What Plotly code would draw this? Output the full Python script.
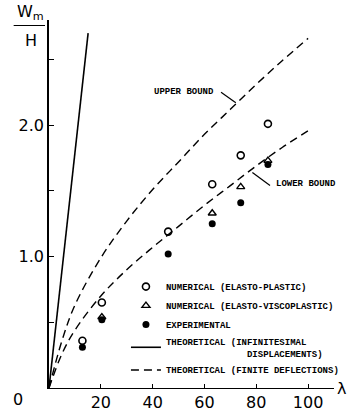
import plotly.graph_objects as go

# ---- data ----
lam_ep = [12.9, 20.4, 46, 63, 74, 84.5]
w_ep = [0.36, 0.65, 1.19, 1.55, 1.77, 2.01]

lam_evp = [20.4, 63, 74, 84.5]
w_evp = [0.54, 1.33, 1.53, 1.73]

lam_exp = [12.9, 20.4, 46, 63, 74, 84.5]
w_exp = [0.31, 0.52, 1.02, 1.25, 1.41, 1.70]

lam_inf = [0, 15.1]
w_inf = [0, 2.70]

lam_up = [0, 5, 10, 20, 30, 40, 50, 60, 70, 80, 90, 100]
w_up = [0, 0.36, 0.63, 0.99, 1.27, 1.51, 1.72, 1.93, 2.12, 2.31, 2.49, 2.66]

lam_lo = [0, 5, 10, 20, 30, 40, 50, 60, 70, 80, 90, 101]
w_lo = [0, 0.26, 0.44, 0.70, 0.90, 1.07, 1.23, 1.39, 1.54, 1.69, 1.83, 1.97]

x_ticks = [20, 40, 60, 80, 100]
x_labels = ["20", "40", "60", "80", "100"]
y_ticks = [1.0, 2.0]
y_labels = ["1.0", "2.0"]

LEG_FONT = dict(family="Liberation Mono", size=9, color="black", weight="bold")
DASH = "8px,5px"

fig = go.Figure()
fig.add_trace(go.Scatter(x=lam_ep, y=w_ep, mode="markers", name="NUMERICAL (ELASTO-PLASTIC)",
                         marker=dict(symbol="circle-open", size=7, color="black", line=dict(width=1.6)),
                         legendrank=1))
fig.add_trace(go.Scatter(x=lam_evp, y=w_evp, mode="markers", name="NUMERICAL (ELASTO-VISCOPLASTIC)",
                         marker=dict(symbol="triangle-up-open", size=7, color="black", line=dict(width=1.4)),
                         legendrank=2))
fig.add_trace(go.Scatter(x=lam_exp, y=w_exp, mode="markers", name="EXPERIMENTAL",
                         marker=dict(symbol="circle", size=7, color="black"),
                         legendrank=3))
fig.add_trace(go.Scatter(x=lam_inf, y=w_inf, mode="lines",
                         name="THEORETICAL (INFINITESIMAL<br>               DISPLACEMENTS)",
                         line=dict(color="black", width=1.6), legendrank=4))
fig.add_trace(go.Scatter(x=lam_up, y=w_up, mode="lines", name="THEORETICAL (FINITE DEFLECTIONS)",
                         line=dict(color="black", width=1.4, dash=DASH, shape="spline"), legendrank=5))
fig.add_trace(go.Scatter(x=lam_lo, y=w_lo, mode="lines", showlegend=False,
                         line=dict(color="black", width=1.4, dash=DASH, shape="spline")))

fig.update_layout(
    width=356, height=414,
    margin=dict(l=49, r=15.5, t=20, b=26),
    paper_bgcolor="white", plot_bgcolor="white",
    showlegend=True,
    legend=dict(x=0.27, y=0.315, xanchor="left", yanchor="top", font=LEG_FONT,
                bgcolor="rgba(0,0,0,0)", tracegroupgap=0, itemwidth=30),
    xaxis=dict(range=[0, 110], automargin=False, showgrid=False, zeroline=False, showline=True,
               linecolor="black", linewidth=1.4, ticks="inside", ticklen=4, tickcolor="black", tickwidth=1,
               tickvals=x_ticks, ticktext=x_labels,
               tickfont=dict(family="DejaVu Sans", size=16, color="black")),
    yaxis=dict(range=[0, 2.8], automargin=False, showgrid=False, zeroline=False, showline=True,
               linecolor="black", linewidth=1.6, ticks="inside", ticklen=5, tickcolor="black", tickwidth=1,
               tickvals=y_ticks, ticktext=y_labels,
               minor=dict(ticks="inside", ticklen=5, tickcolor="black", tickwidth=1, dtick=0.5, showgrid=False),
               tickfont=dict(family="DejaVu Sans", size=16, color="black")),
)

ann_font = dict(family="DejaVu Sans", size=16, color="black")
fig.add_annotation(xref="paper", yref="paper", x=-0.11, y=-0.032, text="0", showarrow=False,
                   font=ann_font, xanchor="center", yanchor="middle")
fig.add_annotation(xref="paper", yref="paper", x=1.005, y=0.0, text="λ", showarrow=False,
                   font=ann_font, xanchor="left", yanchor="middle")
fig.add_annotation(xref="paper", yref="paper", x=-0.064, y=1.02, text="W<sub>m</sub>", showarrow=False,
                   font=ann_font, xanchor="center", yanchor="middle")
fig.add_annotation(xref="paper", yref="paper", x=-0.064, y=0.945, text="H", showarrow=False,
                   font=ann_font, xanchor="center", yanchor="middle")
fig.add_shape(type="line", xref="paper", yref="paper", x0=-0.124, x1=-0.014, y0=0.985, y1=0.985,
              line=dict(color="black", width=1.2))

fig.add_annotation(x=52.1, y=2.25, text="UPPER BOUND", showarrow=False, font=LEG_FONT)
fig.add_shape(type="line", x0=66.4, y0=2.25, x1=72.1, y1=2.17, line=dict(color="black", width=1.2))
fig.add_annotation(x=99.2, y=1.55, text="LOWER BOUND", showarrow=False, font=LEG_FONT)
fig.add_shape(type="line", x0=78.5, y0=1.64, x1=85.3, y1=1.54, line=dict(color="black", width=1.2))

fig.write_html("out.html", config={"displayModeBar": False},
               post_script="document.body.style.margin='0';document.body.style.overflow='hidden';")
